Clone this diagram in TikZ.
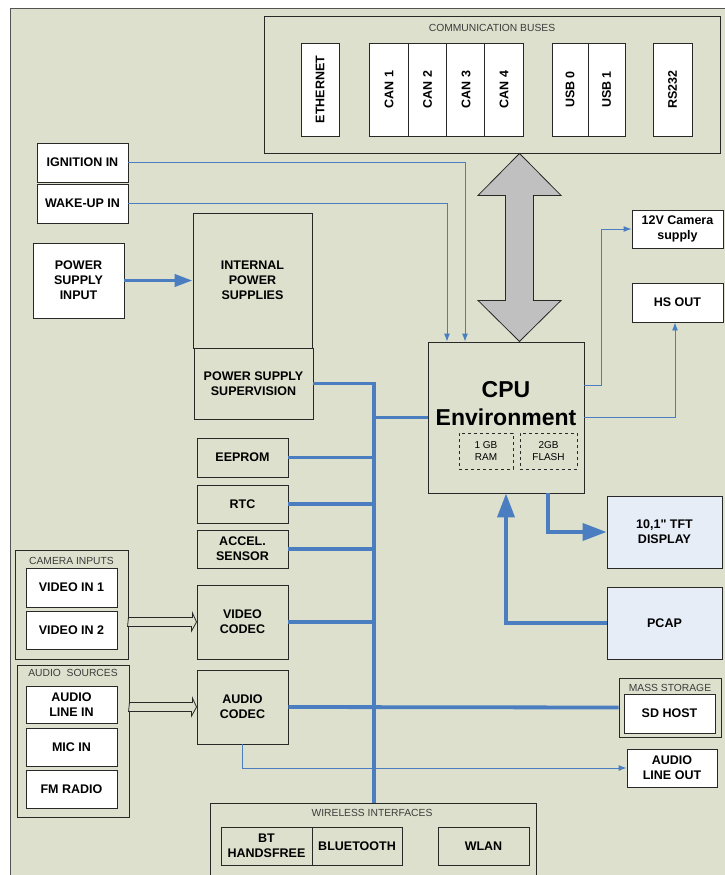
\documentclass[tikz,border=0pt]{standalone}
\usepackage{fontspec}
\setmainfont{Liberation Sans}
\newfontfamily\hmiplain{Liberation Sans}[Ligatures=TeXOff]
\usetikzlibrary{arrows.meta}
\definecolor{hmibg}{RGB}{220,224,204}
\definecolor{hmiedge}{RGB}{40,40,40}
\definecolor{hmiblue}{RGB}{74,126,193}
\definecolor{hmipale}{RGB}{230,237,247}
\definecolor{hmigray}{RGB}{192,192,192}
\definecolor{hmititle}{RGB}{60,60,60}

\begin{document}
\begin{tikzpicture}[x=1pt, y=-1pt,
    blk/.style={draw=hmiedge, line width=0.9pt, inner sep=0pt, align=center,
      font=\fontsize{12.5}{15}\selectfont\bfseries},
    wblk/.style={blk, fill=white},
    sz/.style 2 args={minimum width=#1pt, minimum height=#2pt},
    grp/.style={draw=hmiedge, line width=0.9pt, inner sep=0pt},
    grptitle/.style={inner sep=0pt, text=hmititle, font=\fontsize{10.3}{12}\selectfont},
    mem/.style={draw=hmiedge, dashed, line width=0.7pt, inner sep=0pt, align=center,
      font=\fontsize{10}{12.5}\selectfont},
    sig/.style={draw=hmiblue, line width=0.9pt, -{Latex[length=8pt,width=6pt]}},
    bus/.style={draw=hmiblue, line width=3.8pt},
    fat/.style={bus, -{Triangle[length=24pt,width=17pt]}},
    feed/.style={draw=hmiedge, line width=0.8pt, fill=hmibg, line join=miter},
  ]
  \clip (0,0) rectangle (725,875);
  \fill[white] (0,0) rectangle (725,875);
  \draw[hmiedge!80, fill=hmibg, line width=1pt] (10,9) rectangle (745,895);

  % communication buses
  \node[grp, sz={456}{137}] (busgrp) at (492,84.5) {};
  \node[grptitle] (bustitle) at (492,28) {COMMUNICATION BUSES};
  \node[wblk, rotate=90, sz={93}{38}] (eth) at (320,89.5) {ETHERNET};
  \foreach \x/\n in {389/1,427.5/2,466/3,504/4}
    \node[wblk, rotate=90, sz={93}{38.5}] (can\n) at (\x,89.5) {CAN \n};
  \node[wblk, rotate=90, sz={93}{36}] (usb0) at (570,89.5) {USB 0};
  \node[wblk, rotate=90, sz={93}{37}] (usb1) at (606.5,89.5) {USB 1};
  \node[wblk, rotate=90, sz={93}{39}] (rs232) at (672.5,89.5) {RS232};

  % inputs and power
  \node[wblk, sz={91}{39}] (ign) at (82.5,162.5) {IGNITION IN};
  \node[wblk, sz={91}{39}] (wake) at (82.5,203.5) {WAKE-UP IN};
  \node[wblk, sz={91}{75}] (psi) at (78.5,280.5) {POWER\\SUPPLY\\INPUT};
  \node[blk, sz={119}{135}] (ips) at (252.5,280.5) {INTERNAL\\POWER\\SUPPLIES};
  \node[blk, sz={119}{71}] (pss) at (253.5,383.5) {POWER SUPPLY\\SUPERVISION};

  % cpu
  \node[blk, sz={156}{151}] (cpu) at (506,417.5) {};
  \node[inner sep=0pt, align=center, font=\fontsize{23}{28}\selectfont\bfseries] (cpulbl) at (506,404) {CPU\\Environment};
  \node[mem, sz={54}{36}] (ram) at (486,451) {1 GB\\RAM};
  \node[mem, sz={57}{36}] (flash) at (548.5,451) {2GB\\FLASH};
  \node[wblk, sz={91}{38}] (cam12) at (677.5,229) {12V Camera\\supply};
  \node[wblk, sz={91}{39}] (hsout) at (677.5,302.5) {HS OUT};
  \node[blk, fill=hmipale, sz={115}{72}] (tft) at (664.5,532) {10,1{\hmiplain\bfseries\char34} TFT\\DISPLAY};
  \node[blk, fill=hmipale, sz={115}{72}] (pcap) at (664.5,623) {PCAP};

  % peripherals on the bus
  \node[blk, sz={91}{39}] (eeprom) at (242.5,457.5) {EEPROM};
  \node[blk, sz={91}{38}] (rtc) at (242.5,504) {RTC};
  \node[blk, sz={91}{38}] (accel) at (242.5,549) {ACCEL.\\SENSOR};
  \node[blk, sz={91}{74}] (vcodec) at (242.5,622) {VIDEO\\CODEC};
  \node[blk, sz={91}{74}] (acodec) at (242.5,707) {AUDIO\\CODEC};

  % camera / audio sources
  \node[grp, sz={113}{109}] (camgrp) at (71.5,604.5) {};
  \node[grptitle] (camtitle) at (71.5,561) {CAMERA INPUTS};
  \node[wblk, sz={91}{39}] (vin1) at (71.5,587.5) {VIDEO IN 1};
  \node[wblk, sz={91}{38}] (vin2) at (71.5,630) {VIDEO IN 2};
  \node[grp, sz={112}{152}] (audgrp) at (73,741) {};
  \node[grptitle] (audtitle) at (73,673) {AUDIO\ \ SOURCES};
  \node[wblk, sz={91}{37}] (ali) at (71.5,704.5) {AUDIO\\LINE IN};
  \node[wblk, sz={91}{38}] (mic) at (71.5,747) {MIC IN};
  \node[wblk, sz={91}{38}] (fm) at (71.5,789) {FM RADIO};

  % storage, audio out, wireless
  \node[grp, sz={102}{59}] (msgrp) at (670,707.5) {};
  \node[grptitle] (mstitle) at (670,688) {MASS STORAGE};
  \node[wblk, sz={91}{39}] (sd) at (669.5,713.5) {SD HOST};
  \node[wblk, sz={90}{38}] (alo) at (672,768) {AUDIO\\LINE OUT};
  \node[grp, sz={326}{87}] (wgrp) at (373,846.5) {};
  \node[grptitle] (wtitle) at (372,813) {WIRELESS INTERFACES};
  \node[blk, sz={91}{38}] (bt) at (266.5,846) {BT\\HANDSFREE};
  \node[blk, sz={90}{38}] (blue) at (357,846) {BLUETOOTH};
  \node[blk, sz={91}{38}] (wlan) at (483.5,846) {WLAN};

  % connectors
  \draw[hmiedge, fill=hmigray, line width=0.8pt] ([xshift=27.5pt]busgrp.south) -- ++(41.5,42) -- ++(-27.5,0)
    -- ++(0,105) -- ++(27.5,0) -- ++(-41.5,41) -- ++(-41.5,-41) -- ++(27.5,0) -- ++(0,-105) -- ++(-27.5,0) -- cycle;
  \draw[sig] (ign.east) -| ([xshift=-41pt]cpu.north);
  \draw[sig] (wake.east) -| ([xshift=-59pt]cpu.north);
  \draw[bus, -{Triangle[length=18pt,width=12pt]}] (psi.east) -- (ips.west);
  \coordinate (bustop) at (374,383.5);
  \draw[bus] (pss.east) -- (bustop) -- (bustop |- wgrp.north);
  \draw[bus] (bustop |- cpu.west) -- (cpu.west);
  \foreach \b in {eeprom,rtc,accel,vcodec}
    \draw[bus] (\b.east) -- (bustop |- \b.east);
  \draw[bus] (acodec.east) -- (msgrp.west);
  \draw[sig] (acodec.south) |- (alo.west);
  \coordinate (vfeed) at (vcodec.west -| camgrp.east);
  \coordinate (afeed) at (acodec.west -| audgrp.east);
  \draw[feed] ([yshift=4.5pt]vfeed) -- ++(64,0) -- ++(0,-4.5) -- (vcodec.west) -- ++(-5,9) -- ++(0,-4.5) -- ++(-64,0) -- cycle;
  \draw[feed] ([yshift=4.5pt]afeed) -- ++(63,0) -- ++(0,-4.5) -- (acodec.west) -- ++(-5,9) -- ++(0,-4.5) -- ++(-63,0) -- cycle;
  \draw[sig] ([yshift=32.5pt]cpu.east) -- ++(17,0) |- (cam12.west);
  \draw[sig] (cpu.east) -| ([xshift=-2.5pt]hsout.south);
  \draw[fat] ([xshift=42pt]cpu.south) |- (tft.west);
  \draw[fat] (pcap.west) -| (cpu.south);
\end{tikzpicture}
\end{document}
